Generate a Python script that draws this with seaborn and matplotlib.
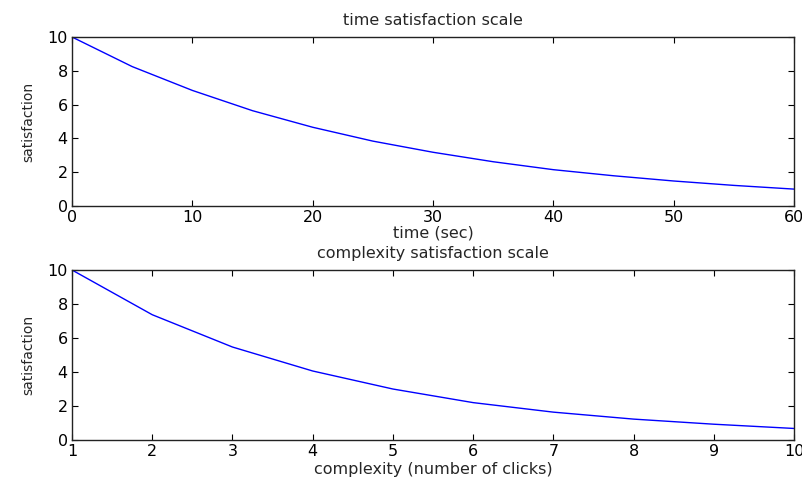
import matplotlib
matplotlib.use("Agg")
import matplotlib.pyplot as plt
import pandas as pd
import seaborn as sns

# values
time_sec = [0, 5, 10, 15, 20, 25, 30, 35, 40, 45, 50, 55, 60]
time_satisfaction = [10.0, 8.25, 6.84, 5.64, 4.66, 3.84, 3.18, 2.62, 2.15, 1.79, 1.48, 1.22, 1.0]

clicks = [1, 2, 3, 4, 5, 6, 7, 8, 9, 10]
click_satisfaction = [10.0, 7.37, 5.47, 4.06, 3.0, 2.2, 1.64, 1.23, 0.93, 0.68]

sns.set_theme(style="ticks")
plt.rcParams["font.family"] = ["DejaVu Sans"]

time_df = pd.DataFrame({"time": time_sec, "satisfaction": time_satisfaction})
click_df = pd.DataFrame({"clicks": clicks, "satisfaction": click_satisfaction})

fig = plt.figure(figsize=(8.03, 4.82), dpi=100)
ax_top = fig.add_axes([0.0897, 0.5726, 0.8991, 0.3506])
ax_bot = fig.add_axes([0.0897, 0.0871, 0.8991, 0.3527])

sns.lineplot(data=time_df, x="time", y="satisfaction", ax=ax_top, color="blue", linewidth=1.0)
sns.lineplot(data=click_df, x="clicks", y="satisfaction", ax=ax_bot, color="blue", linewidth=1.0)

panels = [
    (ax_top, (0, 60), range(0, 61, 10), "time (sec)", "time satisfaction scale", 0),
    (ax_bot, (1, 10), range(1, 11), "complexity (number of clicks)", "complexity satisfaction scale", 2),
]
for ax, xlim, xticks, xlabel, title, xpad in panels:
    ax.set_xlim(*xlim)
    ax.set_ylim(0, 10)
    ax.set_xticks(list(xticks))
    ax.set_yticks(range(0, 11, 2))
    ax.tick_params(direction="in", top=True, right=True, length=4, width=0.8,
                   labelsize=11.5, pad=3, colors="black")
    for spine in ax.spines.values():
        spine.set_visible(True)
        spine.set_linewidth(1.0)
        spine.set_color("#222222")
    ax.set_xlabel(xlabel, fontsize=11.5, labelpad=xpad)
    ax.set_ylabel("satisfaction", fontsize=10, labelpad=9)
    ax.set_title(title, fontsize=11.5, pad=9)

fig.savefig("out.png", dpi=100)
